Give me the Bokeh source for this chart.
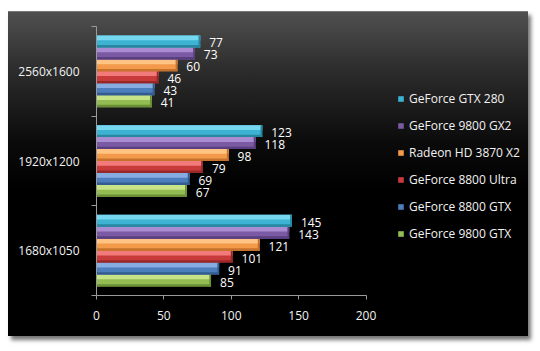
from bokeh.plotting import figure
from bokeh.models import (ColumnDataSource, Range1d, FixedTicker, Legend, LegendItem)
from bokeh.core.properties import value
from bokeh.embed import file_html
from bokeh.resources import INLINE

# ---- data ----
resolutions = ["1680x1050", "1920x1200", "2560x1600"]          # bottom -> top
cards = ["GeForce 9800 GTX", "GeForce 8800 GTX", "GeForce 8800 Ultra",
         "Radeon HD 3870 X2", "GeForce 9800 GX2", "GeForce GTX 280"]  # bottom -> top in group
gf_9800_gtx = [85, 67, 41]
gf_8800_gtx = [91, 69, 43]
gf_8800_ultra = [101, 79, 46]
radeon_3870_x2 = [121, 98, 60]
gf_9800_gx2 = [143, 118, 73]
gf_gtx_280 = [145, 123, 77]
series = [gf_9800_gtx, gf_8800_gtx, gf_8800_ultra, radeon_3870_x2, gf_9800_gx2, gf_gtx_280]
x_ticks = [0, 50, 100, 150, 200]

# ---- styles ----
mid = ["#93bd52", "#4c7dbd", "#c93b3b", "#f3994a", "#7a5aa3", "#3db2d3"]
light = ["#c6e387", "#86ace2", "#f27a7a", "#ffc483", "#a98cd1", "#76d8f0"]
dark = ["#6b8f36", "#335c91", "#962828", "#c7722c", "#5a3f80", "#27879f"]
FONT = "Open Sans"
FS = "12px"

bar_h = 0.1333
n = len(cards)
W, H = 520, 325
LEFT, TOP, BOTTOM = 88, 14, 42
AXIS_PX = 269.5          # pixel length of the 0..200 axis
x_end = 200 * (W - LEFT) / AXIS_PX

p = figure(width=W, height=H, output_backend="svg", toolbar_location=None,
           x_range=Range1d(0, x_end), y_range=Range1d(-0.5, 2.5),
           min_border_left=LEFT, min_border_right=0, min_border_top=TOP, min_border_bottom=BOTTOM)
p.margin = (11, 0, 0, 8)
p.background_fill_color = None
p.border_fill_color = None
p.outline_line_color = None
p.styles = {
    "background": "linear-gradient(to bottom, #505050 0%, #2c2c2c 18%, #0b0b0b 40%, #000000 55%, #000000 100%)",
    "box-shadow": "3px 4px 4px rgba(0,0,0,0.55)",
    "border-top": "1px solid #777",
}
p.grid.visible = False

base_renderers = []
for i, (card, vals) in enumerate(zip(cards, series)):
    off = (i - (n - 1) / 2) * bar_h
    ys = [k + off for k in range(len(resolutions))]
    src = ColumnDataSource(dict(y=ys, v=vals, lbl=[str(v) for v in vals],
                                ytop=[y + bar_h * 0.5 - bar_h * 0.2 for y in ys],
                                ybot=[y - bar_h * 0.5 + bar_h * 0.1 for y in ys],
                                vend=[v - 1.3 for v in vals]))
    r = p.hbar(y="y", left=0, right="v", height=bar_h, source=src,
               fill_color=mid[i], line_color=None)
    p.hbar(y="ytop", left=0, right="v", height=bar_h * 0.4, source=src,
           fill_color=light[i], line_color=None)
    p.hbar(y="ybot", left=0, right="v", height=bar_h * 0.2, source=src,
           fill_color=dark[i], line_color=None)
    p.hbar(y="y", left="vend", right="v", height=bar_h, source=src,
           fill_color=dark[i], line_color=None)
    p.text(x="v", y="y", text="lbl", source=src, x_offset=9, y_offset=1.5,
           text_font=value(FONT), text_font_size=FS, text_color="#ffffff",
           text_baseline="middle", text_align="left")
    base_renderers.append(r)

# axes
xa = p.xaxis[0]
xa.ticker = FixedTicker(ticks=x_ticks)
xa.bounds = (0, 200)
xa.axis_line_color = "#9a9a9a"
xa.major_tick_line_color = "#9a9a9a"
xa.major_tick_in = 0
xa.major_tick_out = 4
xa.minor_tick_line_color = None
xa.major_label_standoff = 11
xa.major_label_text_font = FONT
xa.major_label_text_font_size = FS
xa.major_label_text_color = "#f2f2f2"

ya = p.yaxis[0]
ya.ticker = FixedTicker(ticks=[0, 1, 2], minor_ticks=[-0.5, 0.5, 1.5, 2.5])
ya.major_label_overrides = {i: r for i, r in enumerate(resolutions)}
ya.axis_line_color = "#9a9a9a"
ya.major_tick_line_color = None
ya.major_tick_in = 0
ya.major_tick_out = 0
ya.minor_tick_line_color = "#9a9a9a"
ya.minor_tick_in = 0
ya.minor_tick_out = 5
ya.major_label_standoff = 12
ya.major_label_text_font = FONT
ya.major_label_text_font_size = FS
ya.major_label_text_color = "#f2f2f2"

items = [LegendItem(label=cards[i], renderers=[base_renderers[i]]) for i in reversed(range(n))]
legend = Legend(items=items, location=(301, 53), orientation="vertical",
                background_fill_alpha=0, border_line_color=None,
                padding=0, margin=0, spacing=10,
                glyph_width=7, glyph_height=7, label_height=14, label_standoff=5,
                label_text_font=FONT, label_text_font_size=FS,
                label_text_color="#f2f2f2", label_text_baseline="middle")
p.add_layout(legend)

open("out.html", "w").write(file_html(p, INLINE))
